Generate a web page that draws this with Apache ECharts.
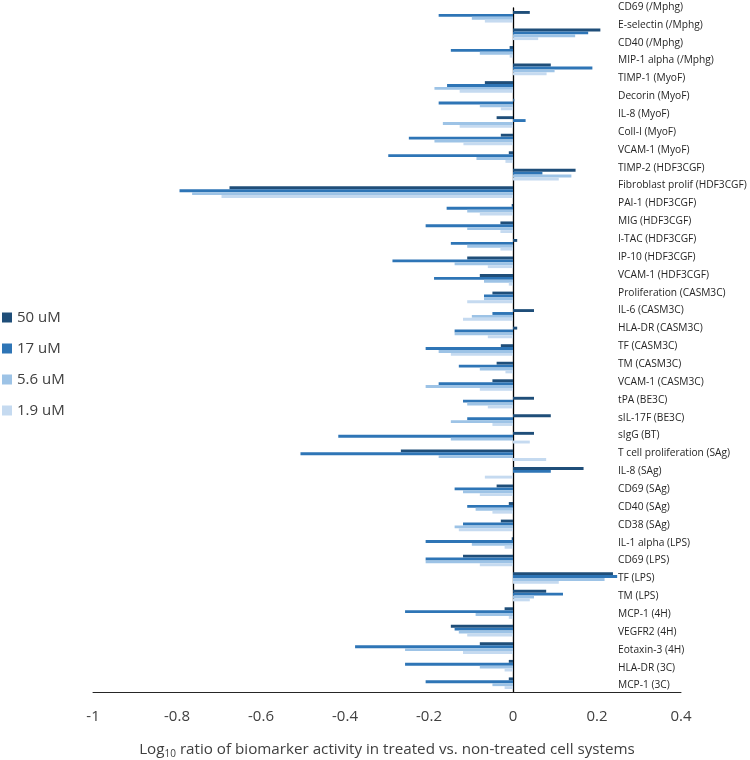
<!DOCTYPE html>
<html>
<head>
<meta charset="utf-8">
<script src="https://cdn.jsdelivr.net/npm/echarts@6/dist/echarts.min.js"></script>
<style>html,body{margin:0;padding:0;background:#fff}#c{width:750px;height:760px}</style>
</head>
<body>
<div id="c"></div>
<script>
const categories = [
  "CD69 (/Mphg)", "E-selectin (/Mphg)", "CD40 (/Mphg)", "MIP-1 alpha (/Mphg)",
  "TIMP-1 (MyoF)", "Decorin (MyoF)", "IL-8 (MyoF)", "Coll-I (MyoF)", "VCAM-1 (MyoF)",
  "TIMP-2 (HDF3CGF)", "Fibroblast prolif (HDF3CGF)", "PAI-1 (HDF3CGF)", "MIG (HDF3CGF)",
  "I-TAC (HDF3CGF)", "IP-10 (HDF3CGF)", "VCAM-1 (HDF3CGF)",
  "Proliferation (CASM3C)", "IL-6 (CASM3C)", "HLA-DR (CASM3C)", "TF (CASM3C)",
  "TM (CASM3C)", "VCAM-1 (CASM3C)", "tPA (BE3C)", "sIL-17F (BE3C)", "sIgG (BT)",
  "T cell proliferation (SAg)", "IL-8 (SAg)", "CD69 (SAg)", "CD40 (SAg)", "CD38 (SAg)",
  "IL-1 alpha (LPS)", "CD69 (LPS)", "TF (LPS)", "TM (LPS)",
  "MCP-1 (4H)", "VEGFR2 (4H)", "Eotaxin-3 (4H)", "HLA-DR (3C)", "MCP-1 (3C)"
];
const seriesNames = ["50 uM", "17 uM", "5.6 uM", "1.9 uM"];
const uM50 = [0.04, 0.208, -0.008, 0.09, -0.067, 0.003, -0.039, -0.029, -0.01,
  0.149, -0.675, -0.003, -0.03, 0.01, -0.109, -0.079,
  -0.049, 0.05, 0.01, -0.029, -0.039, -0.049, 0.05, 0.09, 0.05,
  -0.267, 0.168, -0.039, -0.01, -0.029, -0.003, -0.119, 0.238, 0.079,
  -0.02, -0.148, -0.079, -0.01, -0.01];
const uM17 = [-0.177, 0.179, -0.148, 0.189, -0.157, -0.177, 0.03, -0.248, -0.297,
  0.07, -0.794, -0.158, -0.208, -0.148, -0.287, -0.188,
  -0.069, -0.049, -0.139, -0.208, -0.129, -0.177, -0.119, -0.109, -0.416,
  -0.506, 0.09, -0.139, -0.109, -0.119, -0.208, -0.208, 0.248, 0.119,
  -0.257, -0.139, -0.376, -0.257, -0.208];
const uM5_6 = [-0.098, 0.148, -0.079, 0.099, -0.187, -0.079, -0.167, -0.187, -0.087,
  0.139, -0.764, -0.109, -0.109, -0.109, -0.139, -0.069,
  -0.069, -0.098, -0.139, -0.177, -0.079, -0.208, -0.109, -0.148, -0.148,
  -0.177, 0.0, -0.119, -0.089, -0.139, -0.098, -0.208, 0.218, 0.05,
  -0.089, -0.129, -0.257, -0.079, -0.049];
const uM1_9 = [-0.067, 0.06, -0.008, 0.08, -0.127, -0.029, -0.127, -0.118, -0.018,
  0.109, -0.694, -0.079, -0.03, -0.03, -0.06, -0.01,
  -0.109, -0.119, -0.06, -0.148, -0.018, -0.079, -0.06, -0.049, 0.04,
  0.079, -0.067, -0.079, -0.049, -0.129, -0.02, -0.079, 0.109, 0.04,
  -0.01, -0.109, -0.119, -0.02, -0.02];
const xTicks = { min: -1, max: 0.4, interval: 0.2 };
const colors = ["#1F4E79", "#2E75B6", "#9DC3E6", "#C5DAF0"];
const values = [uM50, uM17, uM5_6, uM1_9];

const FONT = 'Open Sans, Liberation Sans, sans-serif';
const chart = echarts.init(document.getElementById('c'), null, { renderer: 'canvas' });
chart.setOption({
  animation: false,
  textStyle: { fontFamily: FONT },
  legend: {
    orient: 'vertical', left: 2, top: 310, padding: 0,
    itemWidth: 10, itemHeight: 10, itemGap: 16,
    icon: 'rect',
    textStyle: { fontSize: 15, color: '#404040', fontFamily: FONT },
    data: seriesNames
  },
  grid: [
    { left: 93, right: 69, top: 8, bottom: 68, containLabel: false, outerBoundsMode: 'none' },
    { left: 617, right: 0, top: -2, height: 696.5, containLabel: false, outerBoundsMode: 'none' }
  ],
  xAxis: [{
    type: 'value', gridIndex: 0, min: xTicks.min, max: xTicks.max, interval: xTicks.interval,
    axisLine: { show: true, onZero: false, lineStyle: { color: '#262626', width: 1 } },
    axisTick: { show: false },
    splitLine: { show: false },
    axisLabel: { fontSize: 15, color: '#404040', margin: 17, fontFamily: FONT },
    name: 'Log{sub|10} ratio of biomarker activity in treated vs. non-treated cell systems',
    nameLocation: 'middle', nameGap: 49,
    nameTextStyle: {
      fontSize: 15.2, color: '#404040', fontFamily: FONT,
      rich: { sub: { fontSize: 10, verticalAlign: 'bottom', padding: [8, 0, 0, 0], color: '#404040', fontFamily: FONT } }
    }
  }, {
    type: 'value', gridIndex: 1, min: 0, max: 1, show: false
  }],
  yAxis: [{
    type: 'category', gridIndex: 0, data: categories, inverse: true,
    axisLine: { show: true, onZero: true, lineStyle: { color: '#000', width: 1.3 } },
    axisTick: { show: false },
    axisLabel: { show: false },
    splitLine: { show: false }
  }, {
    type: 'category', gridIndex: 1, data: categories, inverse: true,
    axisLine: { show: false }, axisTick: { show: false }, splitLine: { show: false },
    axisLabel: { inside: true, margin: 1, fontSize: 10.2, color: '#262626',
      fontFamily: FONT, interval: 0 }
  }],
  series: seriesNames.map((n, i) => ({
    name: n, type: 'bar', data: values[i], xAxisIndex: 0, yAxisIndex: 0,
    barGap: '0%', barCategoryGap: '34%',
    itemStyle: { color: colors[i] }
  }))
});
</script>
</body>
</html>
